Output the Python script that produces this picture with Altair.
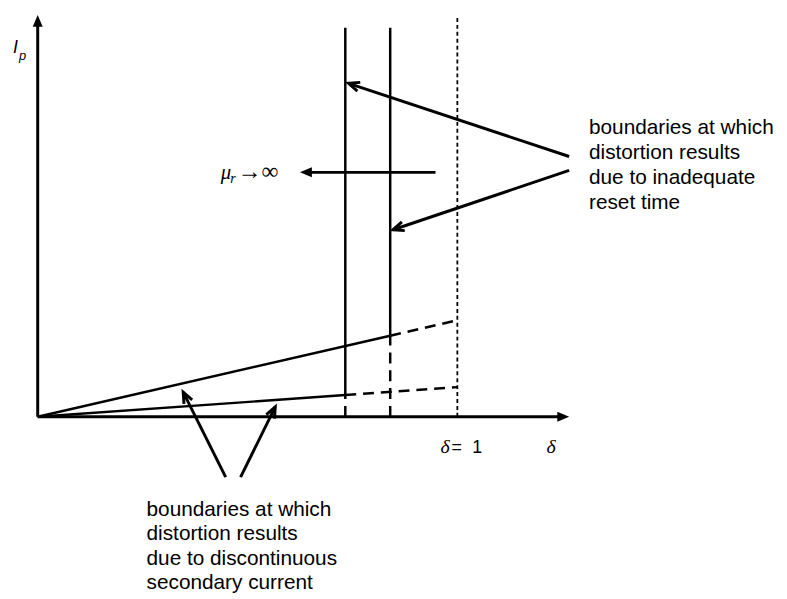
import math
import pandas as pd
import altair as alt

# ---------------- data (diagram units: delta on x, I_p on y) ----------------
X_DOMAIN = [-0.0708, 1.7665]
Y_DOMAIN = [-0.4525, 1.025]
PX_X = 424.0   # px per unit delta (used only for arrow angles)
PX_Y = 400.0   # px per unit I_p

delta_bounds = [0.733, 0.84]      # vertical boundaries (inadequate reset time)
slopes = [0.075, 0.244]           # boundaries I_p = k * delta (discontinuous current)
line_top = 0.9825
delta_one = 1.0
dotted_top = 1.0125
x_axis_end = 1.2665
y_axis_end = 1.015

arrow_tail_x = [1.2665, 1.2665, 0.448, 0.4835]
arrow_tail_y = [0.6575, 0.6225, -0.1525, -0.1525]
arrow_tip_x = [0.7406, 0.8467, 0.3467, 0.566]
arrow_tip_y = [0.8425, 0.4725, 0.0625, 0.025]

mu_tail = [0.948, 0.6175]
mu_tip = [0.625, 0.6175]

right_lines = ["boundaries at which", "distortion results", "due to inadequate", "reset time"]
bottom_lines = ["boundaries at which", "distortion results", "due to discontinuous", "secondary current"]

# ---------------- helpers ----------------
xs = alt.Scale(domain=X_DOMAIN, nice=False, zero=False)
ys = alt.Scale(domain=Y_DOMAIN, nice=False, zero=False)


def angle(tx, ty, hx, hy):
    dx = (hx - tx) * PX_X
    dy = -(hy - ty) * PX_Y
    return math.degrees(math.atan2(dx, -dy)) % 360


def shorten(tx, ty, hx, hy, px):
    dx = (hx - tx) * PX_X
    dy = (hy - ty) * PX_Y
    L = math.hypot(dx, dy)
    f = (L - px) / L
    return tx + (hx - tx) * f, ty + (hy - ty) * f


def seg_layer(rows, width, dash=None):
    df = pd.DataFrame(rows, columns=["x", "y", "x2", "y2"])
    kw = dict(color="black", strokeWidth=width, strokeCap="butt")
    if dash:
        kw["strokeDash"] = dash
    return alt.Chart(df).mark_rule(**kw).encode(
        x=alt.X("x:Q", scale=xs, axis=None),
        y=alt.Y("y:Q", scale=ys, axis=None),
        x2="x2:Q",
        y2="y2:Q",
    )


def text_layer(x, y, txt, size, font="Liberation Sans", style="normal", lh=None):
    df = pd.DataFrame({"x": [x], "y": [y]})
    kw = dict(text=txt, fontSize=size, font=font, fontStyle=style,
              align="left", baseline="alphabetic", color="black")
    if lh:
        kw["lineHeight"] = lh
    return alt.Chart(df).mark_text(**kw).encode(
        x=alt.X("x:Q", scale=xs, axis=None),
        y=alt.Y("y:Q", scale=ys, axis=None),
    )


FILLED_HEAD = "M0,0L-0.42,1L0.42,1Z"
OPEN_HEAD = "M-0.42,1L0,0L0.42,1"

# ---------------- structure ----------------
(d1, d2), (k1, k2) = delta_bounds, slopes
solid = [
    [0, 0, d1, k1 * d1],
    [0, 0, d2, k2 * d2],
    [d1, k1 * d1, d1, line_top],
    [d2, k2 * d2, d2, line_top],
]
dashed = [
    [d1, k1 * d1, delta_one, k1 * delta_one],
    [d2, k2 * d2, delta_one, k2 * delta_one],
    [d1, 0, d1, k1 * d1],
    [d2, 0, d2, k2 * d2],
]
dotted = [[delta_one, 0, delta_one, dotted_top]]

# axes + mu arrow (filled heads, shortened shafts)
filled = [
    (0, 0, x_axis_end, 0),
    (0, 0, 0, y_axis_end),
    (mu_tail[0], mu_tail[1], mu_tip[0], mu_tip[1]),
]
shafts = []
heads = []
for tx, ty, hx, hy in filled:
    ex, ey = shorten(tx, ty, hx, hy, 8)
    shafts.append([tx, ty, ex, ey])
    heads.append({"x": hx, "y": hy, "a": angle(tx, ty, hx, hy)})

ann = []
ann_heads = []
for tx, ty, hx, hy in zip(arrow_tail_x, arrow_tail_y, arrow_tip_x, arrow_tip_y):
    ann.append([tx, ty, hx, hy])
    ann_heads.append({"x": hx, "y": hy, "a": angle(tx, ty, hx, hy)})

filled_heads = alt.Chart(pd.DataFrame(heads)).mark_point(
    shape=FILLED_HEAD, filled=True, size=576, color="black", opacity=1, strokeWidth=0
).encode(
    x=alt.X("x:Q", scale=xs, axis=None),
    y=alt.Y("y:Q", scale=ys, axis=None),
    angle=alt.Angle("a:Q", scale=None),
)

open_heads = alt.Chart(pd.DataFrame(ann_heads)).mark_point(
    shape=OPEN_HEAD, filled=False, size=484, color="black", opacity=1,
    strokeWidth=3, strokeJoin="miter", strokeCap="butt"
).encode(
    x=alt.X("x:Q", scale=xs, axis=None),
    y=alt.Y("y:Q", scale=ys, axis=None),
    angle=alt.Angle("a:Q", scale=None),
)

layers = [
    seg_layer(solid, 2.5),
    seg_layer(dashed, 2.5, [11, 7]),
    seg_layer(dotted, 1.8, [4, 3]),
    seg_layer(shafts, 3),
    filled_heads,
    seg_layer(ann, 3),
    open_heads,
    # labels
    text_layer(-0.059, 0.92, "I", 18, style="italic"),
    text_layer(-0.0448, 0.9025, "p", 13, style="italic"),
    text_layer(0.4363, 0.6, "μ", 21, font="Liberation Serif", style="italic"),
    text_layer(0.459, 0.59, "r", 14, font="Liberation Serif", style="italic"),
    text_layer(0.4764, 0.6, "→∞", 24, font="Liberation Serif"),
    text_layer(0.96, -0.0925, "δ", 20, font="Liberation Serif", style="italic"),
    text_layer(0.9858, -0.0925, "=", 18),
    text_layer(1.0354, -0.0925, "1", 18),
    text_layer(1.2123, -0.0925, "δ", 20, font="Liberation Serif", style="italic"),
    text_layer(1.3137, 0.71375, right_lines, 21, lh=25.3),
    text_layer(0.2594, -0.25075, bottom_lines, 21, lh=24.5),
]

chart = alt.layer(*layers).properties(
    width=779, height=591, padding=0,
    autosize=alt.AutoSizeParams(type="none"),
    background="white",
).configure_view(stroke=None)

chart.save("out.html", embed_options={"renderer": "svg", "actions": False})
